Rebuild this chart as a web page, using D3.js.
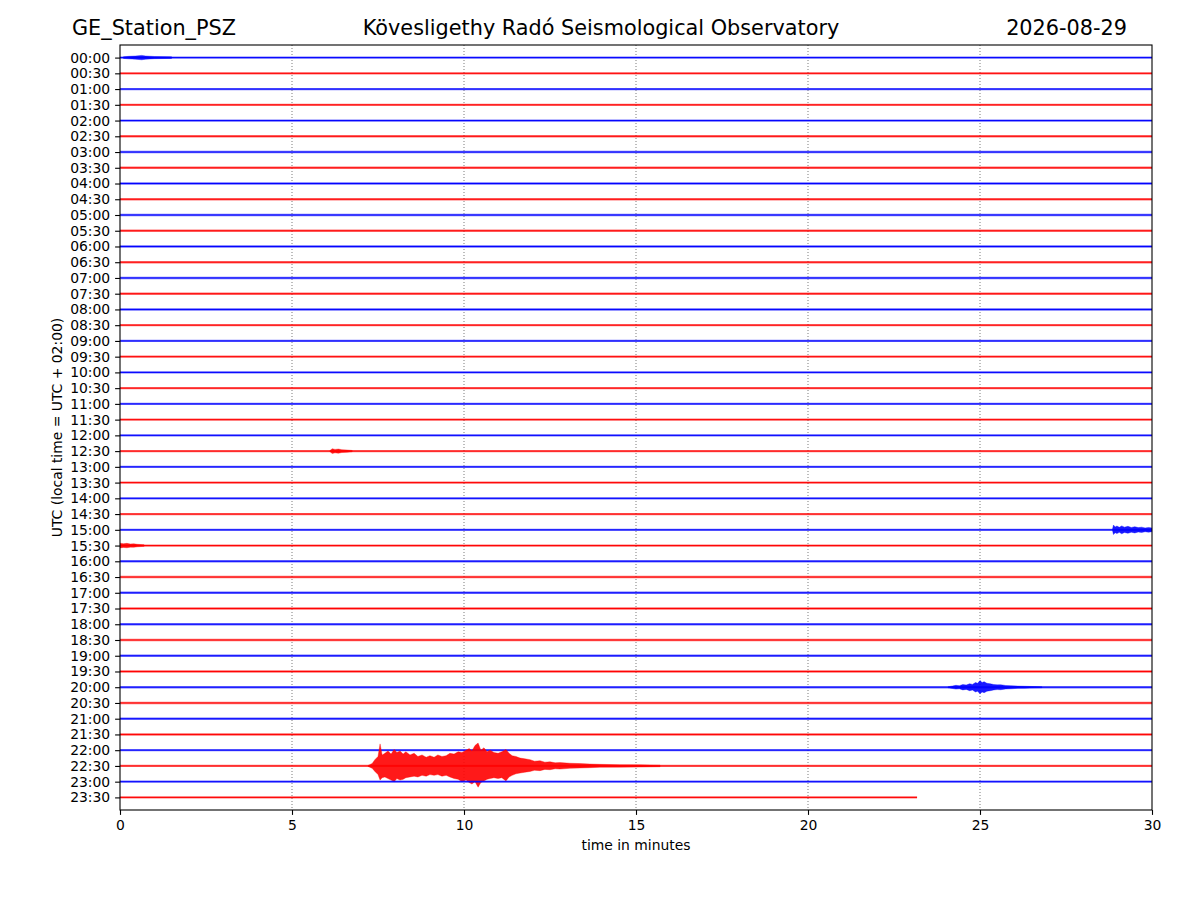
<!DOCTYPE html>
<html>
<head>
<meta charset="utf-8">
<script src="https://cdn.jsdelivr.net/npm/d3@7"></script>
<style>
  body { margin: 0; background: #fff; }
  text { font-family: "DejaVu Sans", sans-serif; }
</style>
</head>
<body>
<script>
// one row per half hour
const traceLabels = [
  "00:00","00:30","01:00","01:30","02:00","02:30","03:00","03:30",
  "04:00","04:30","05:00","05:30","06:00","06:30","07:00","07:30",
  "08:00","08:30","09:00","09:30","10:00","10:30","11:00","11:30",
  "12:00","12:30","13:00","13:30","14:00","14:30","15:00","15:30",
  "16:00","16:30","17:00","17:30","18:00","18:30","19:00","19:30",
  "20:00","20:30","21:00","21:30","22:00","22:30","23:00","23:30"
];
const xTicks = [0, 5, 10, 15, 20, 25, 30];
const noiseLevel = 0.075;      // background half-amplitude, trace units
const lastTraceEnd = 23.17;    // minutes recorded in the 23:30 row

// 22:30 earthquake envelope (minutes, upper, lower)
const quakeMinutes = [7.21,7.33,7.41,7.50,7.56,7.62,7.70,7.79,7.88,7.97,8.05,8.14,8.23,8.31,8.43,8.55,8.66,8.78,8.90,9.01,9.13,9.24,9.36,9.48,9.59,9.71,9.83,9.94,10.06,10.15,10.23,10.32,10.41,10.49,10.58,10.67,10.76,10.87,10.99,11.10,11.22,11.31,11.40,11.51,11.63,11.77,11.92,12.05,12.21,12.35,12.50,12.65,12.79,13.08,13.37,13.66,13.95,14.53,15.12,15.70];
const quakeUp      = [0.03,0.15,0.40,0.60,1.40,0.70,0.80,0.95,0.75,1.05,0.85,0.95,0.75,0.90,0.70,0.80,0.60,0.70,0.55,0.65,0.55,0.70,0.60,0.65,0.80,0.75,0.90,0.85,1.00,1.10,0.95,1.30,1.45,1.00,1.15,0.90,1.00,0.85,0.80,0.90,1.05,0.80,0.65,0.60,0.50,0.45,0.40,0.30,0.33,0.24,0.26,0.20,0.21,0.17,0.15,0.12,0.10,0.08,0.07,0.05];
const quakeDown    = [0.03,0.15,0.35,0.55,0.90,0.75,0.70,0.80,0.90,1.00,0.80,0.90,0.85,0.75,0.70,0.65,0.70,0.60,0.65,0.55,0.60,0.55,0.65,0.60,0.70,0.80,0.85,1.00,0.90,1.05,1.15,1.00,1.35,1.05,0.95,0.85,0.80,0.75,0.80,0.75,0.95,0.70,0.60,0.50,0.45,0.40,0.35,0.28,0.30,0.22,0.24,0.18,0.20,0.15,0.13,0.11,0.09,0.08,0.07,0.05];

// 20:00 regional event
const ev2000Minutes = [24.07,24.20,24.30,24.40,24.50,24.60,24.70,24.78,24.87,24.93,25.00,25.06,25.12,25.20,25.30,25.40,25.50,25.60,25.75,25.90,26.10,26.30,26.60,26.80];
const ev2000Amp     = [0.03,0.08,0.12,0.10,0.17,0.14,0.22,0.18,0.30,0.25,0.42,0.30,0.35,0.25,0.22,0.17,0.15,0.16,0.11,0.10,0.07,0.06,0.04,0.03];

// 15:00 event running into 15:30
const ev1500Minutes = [28.85,28.88,28.93,28.98,29.05,29.12,29.20,29.30,29.40,29.50,29.60,29.70,29.80,29.90,30.00];
const ev1500Amp     = [0.03,0.30,0.18,0.24,0.16,0.25,0.17,0.22,0.15,0.20,0.14,0.17,0.12,0.15,0.12];
const ev1530Minutes = [0.00,0.10,0.20,0.30,0.40,0.50,0.70];
const ev1530Amp     = [0.15,0.12,0.14,0.10,0.11,0.08,0.05];

// 12:30 small event
const ev1230Minutes = [6.10,6.17,6.25,6.35,6.45,6.60,6.75];
const ev1230Amp     = [0.03,0.15,0.11,0.13,0.09,0.07,0.04];

// 00:00 small burst
const ev0000Minutes = [0.10,0.25,0.45,0.63,0.75,1.00,1.50];
const ev0000Amp     = [0.05,0.08,0.10,0.14,0.10,0.07,0.05];

const events = [
  { trace: 0,  minutes: ev0000Minutes, up: ev0000Amp, down: ev0000Amp },
  { trace: 25, minutes: ev1230Minutes, up: ev1230Amp, down: ev1230Amp },
  { trace: 30, minutes: ev1500Minutes, up: ev1500Amp, down: ev1500Amp },
  { trace: 31, minutes: ev1530Minutes, up: ev1530Amp, down: ev1530Amp },
  { trace: 40, minutes: ev2000Minutes, up: ev2000Amp, down: ev2000Amp },
  { trace: 45, minutes: quakeMinutes,  up: quakeUp,   down: quakeDown }
];

var margin = {top: 45, right: 48, bottom: 90, left: 120}
  , width = 1200 - margin.left - margin.right
  , height = 900 - margin.top - margin.bottom;

var xScale = d3.scaleLinear().domain([0, 30]).range([0, width]);
var yScale = d3.scaleLinear().domain([-0.8, traceLabels.length - 0.2]).range([0, height]);

var colorOf = function(i) { return i % 2 === 0 ? "#0000ff" : "#ff0000"; };

var svg = d3.select("body").append("svg")
    .attr("width", 1200)
    .attr("height", 900);

svg.append("text").attr("x", 72).attr("y", 35)
    .attr("font-size", "20.8px").text("GE_Station_PSZ");
svg.append("text").attr("x", 601).attr("y", 35).attr("text-anchor", "middle")
    .attr("font-size", "20.8px").text("Kövesligethy Radó Seismological Observatory");
svg.append("text").attr("x", 1127).attr("y", 35).attr("text-anchor", "end")
    .attr("font-size", "20.8px").text("2026-08-29");

var g = svg.append("g")
    .attr("transform", "translate(" + margin.left + "," + margin.top + ")");

g.append("clipPath").attr("id", "plot-clip")
  .append("rect").attr("width", width).attr("height", height);

// dotted minute grid
g.selectAll(".grid")
    .data(xTicks.slice(1, -1))
  .enter().append("line")
    .attr("class", "grid")
    .attr("x1", function(d) { return xScale(d); })
    .attr("x2", function(d) { return xScale(d); })
    .attr("y1", 0).attr("y2", height)
    .attr("stroke", "#444").attr("stroke-width", 0.7)
    .attr("stroke-dasharray", "1,2");

var plot = g.append("g").attr("clip-path", "url(#plot-clip)");

var band = d3.area()
    .x(function(d) { return xScale(d.m); })
    .y0(function(d) { return yScale(d.t + d.down); })
    .y1(function(d) { return yScale(d.t - d.up); });

var centre = d3.line()
    .x(function(d) { return xScale(d); });

traceLabels.forEach(function(label, i) {
  var end = i === traceLabels.length - 1 ? lastTraceEnd : 30;
  var row = plot.append("g").attr("class", "trace");
  row.append("path")
      .datum([0, end].map(function(m) { return {m: m, t: i, up: noiseLevel, down: noiseLevel}; }))
      .attr("d", band)
      .attr("fill", colorOf(i)).attr("fill-opacity", 0.55);
  row.append("path")
      .datum([0, end])
      .attr("d", centre.y(function() { return yScale(i); }))
      .attr("stroke", colorOf(i)).attr("stroke-width", 1).attr("fill", "none");
  events.filter(function(e) { return e.trace === i; }).forEach(function(e) {
    row.append("path")
        .datum(e.minutes.map(function(m, k) { return {m: m, t: i, up: e.up[k], down: e.down[k]}; }))
        .attr("d", band)
        .attr("fill", colorOf(i)).attr("fill-opacity", 0.9)
        .attr("stroke", colorOf(i)).attr("stroke-width", 0.6).attr("stroke-opacity", 0.6);
  });
});

var xAxis = g.append("g")
    .attr("transform", "translate(0," + height + ")")
    .call(d3.axisBottom(xScale).tickValues(xTicks).tickFormat(d3.format("d"))
          .tickSizeOuter(0).tickSize(4.9).tickPadding(4.9));

var yAxis = g.append("g")
    .call(d3.axisLeft(yScale).tickValues(d3.range(traceLabels.length))
          .tickFormat(function(i) { return traceLabels[i]; })
          .tickSizeOuter(0).tickSize(4.9).tickPadding(4.9));

[xAxis, yAxis].forEach(function(a) {
  a.selectAll("text").attr("font-size", "13.9px").attr("font-family", "DejaVu Sans").attr("fill", "#000");
  a.selectAll("line").attr("stroke", "#000").attr("stroke-width", 1.1);
  a.select(".domain").remove();
});

g.append("rect")
    .attr("width", width).attr("height", height)
    .attr("fill", "none").attr("stroke", "#000").attr("stroke-width", 1.1);

svg.append("text")
    .attr("x", margin.left + width / 2).attr("y", 850)
    .attr("text-anchor", "middle").attr("font-size", "13.9px")
    .text("time in minutes");

svg.append("text")
    .attr("transform", "translate(62," + (margin.top + height / 2) + ") rotate(-90)")
    .attr("text-anchor", "middle").attr("font-size", "13.9px")
    .text("UTC (local time = UTC + 02:00)");
</script>
</body>
</html>
